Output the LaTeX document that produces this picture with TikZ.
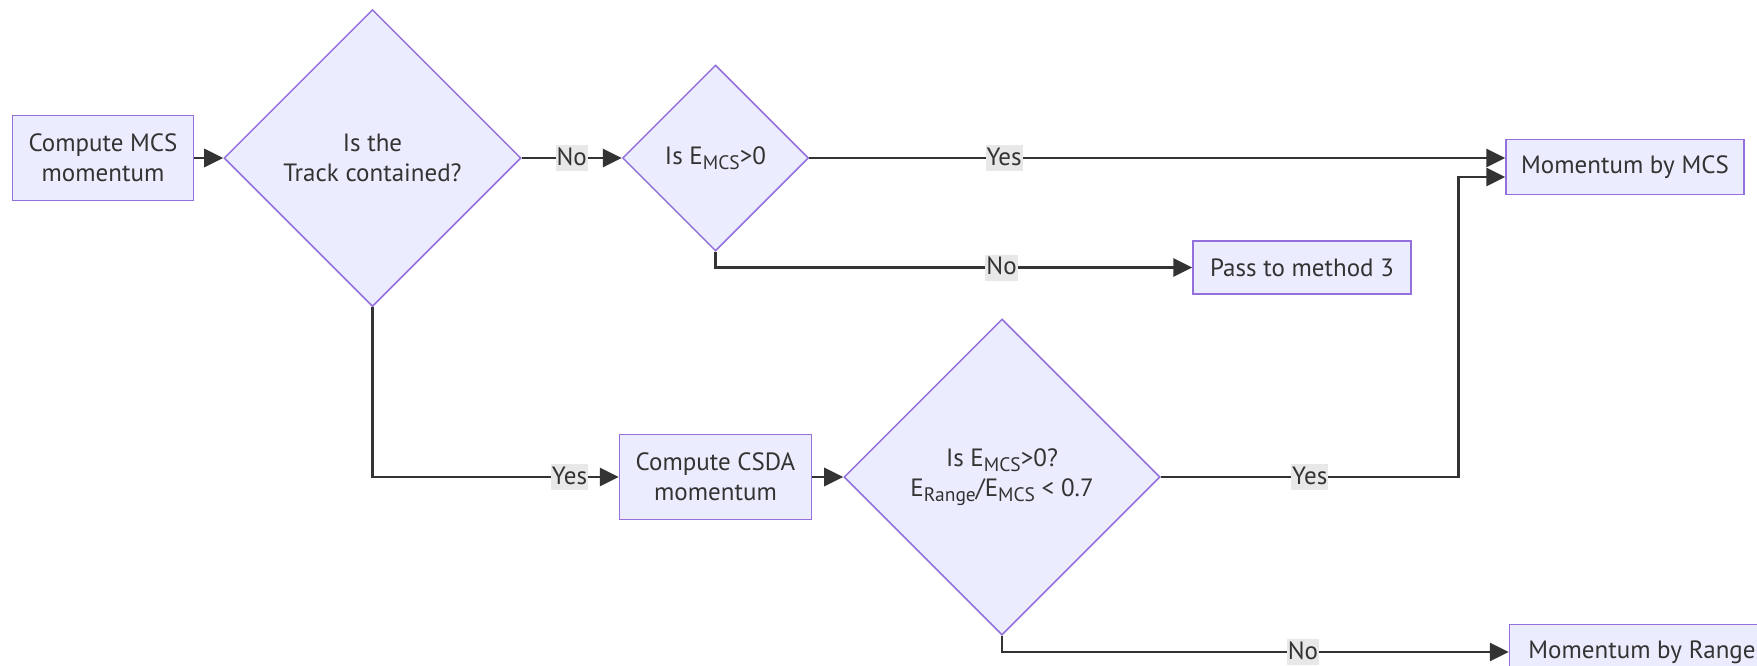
\documentclass[tikz,border=0pt]{standalone}
\usepackage{fontspec}
\setmainfont{PT Sans}
\usepackage{tikz}
\usetikzlibrary{shapes.geometric, arrows.meta, positioning}
\definecolor{boxfill}{HTML}{ECECFF}
\definecolor{boxline}{HTML}{9370DB}
\definecolor{ink}{HTML}{333333}
\definecolor{labelbg}{HTML}{E8E8E8}
\newcommand{\lowidx}[1]{\raisebox{-5pt}{\fontsize{19.5}{20}\selectfont #1}}
\tikzstyle{process} = [rectangle, minimum height=55pt, inner xsep=10pt, inner ysep=0pt, align=center, draw=boxline, fill=boxfill, line width=1.5pt, text=ink, font=\fontsize{25}{30}\selectfont]
\tikzstyle{decision} = [diamond, aspect=1, inner sep=0pt, align=center, draw=boxline, fill=boxfill, line width=1.5pt, text=ink, font=\fontsize{25}{30}\selectfont]
\tikzstyle{arrow} = [line width=2.8pt, draw=ink, ->, >={Triangle[length=19pt,width=18pt]}]
\tikzstyle{answer} = [fill=labelbg, inner xsep=1pt, inner ysep=2pt, text height=18pt, text depth=4pt, text=ink, font=\fontsize{25}{30}\selectfont]

\begin{document}
\begin{tikzpicture}[x=1pt, y=1pt]
    \useasboundingbox (0,0) rectangle (1757,-665);
    \clip (0,0) rectangle (1757,-665);

    \node (mcs) [process, minimum width=181pt, minimum height=85pt] at (103,-158) {Compute MCS\\momentum};
    \node (contained) [decision, minimum width=297pt, minimum height=297pt, right=29pt of mcs] {Is the\\Track contained?};
    \node (emcs) [decision, minimum width=186pt, minimum height=186pt, right=100pt of contained] {Is E\lowidx{MCS}>0};
    \node (bymcs) [process, minimum width=238pt, right=696pt of emcs, yshift=-9pt] {Momentum by MCS};
    \node (pass3) [process, minimum width=218pt, minimum height=53pt, right=383pt of emcs, yshift=-109.5pt] {Pass to method 3};
    \node (csda) [process, minimum width=192pt, minimum height=85pt, below=182pt of emcs] {Compute CSDA\\momentum};
    \node (ratio) [decision, minimum width=316pt, minimum height=316pt, right=31pt of csda] {Is E\lowidx{MCS}>0?\\E\lowidx{Range}/E\lowidx{MCS} < 0.7};
    \node (byrange) [process, minimum width=265pt, right=348pt of ratio, yshift=-175pt] {Momentum by Range};

    \draw [arrow] (mcs) -- (contained);
    \draw [arrow] (contained) -- node[answer] {No} (emcs);
    \draw [arrow] (emcs.east) -- node[answer, pos=0.28] {Yes} (emcs.east -| bymcs.west);
    \draw [arrow] (emcs.south) |- node[answer, pos=0.8] {No} (pass3.west);
    \draw [arrow] (contained.south) |- node[answer, pos=0.9] {Yes} (csda.west);
    \draw [arrow] (csda) -- (ratio);
    % Yes branch climbs back up to the MCS result, just under the first arrow
    \coordinate [right=298pt of ratio.east] (yesbend);
    \draw [arrow] (ratio.east) -- node[answer] {Yes} (yesbend) |- ([yshift=-10pt]bymcs.west);
    \draw [arrow] (ratio.south) |- node[answer, pos=0.797] {No} (byrange.west);
\end{tikzpicture}
\end{document}
